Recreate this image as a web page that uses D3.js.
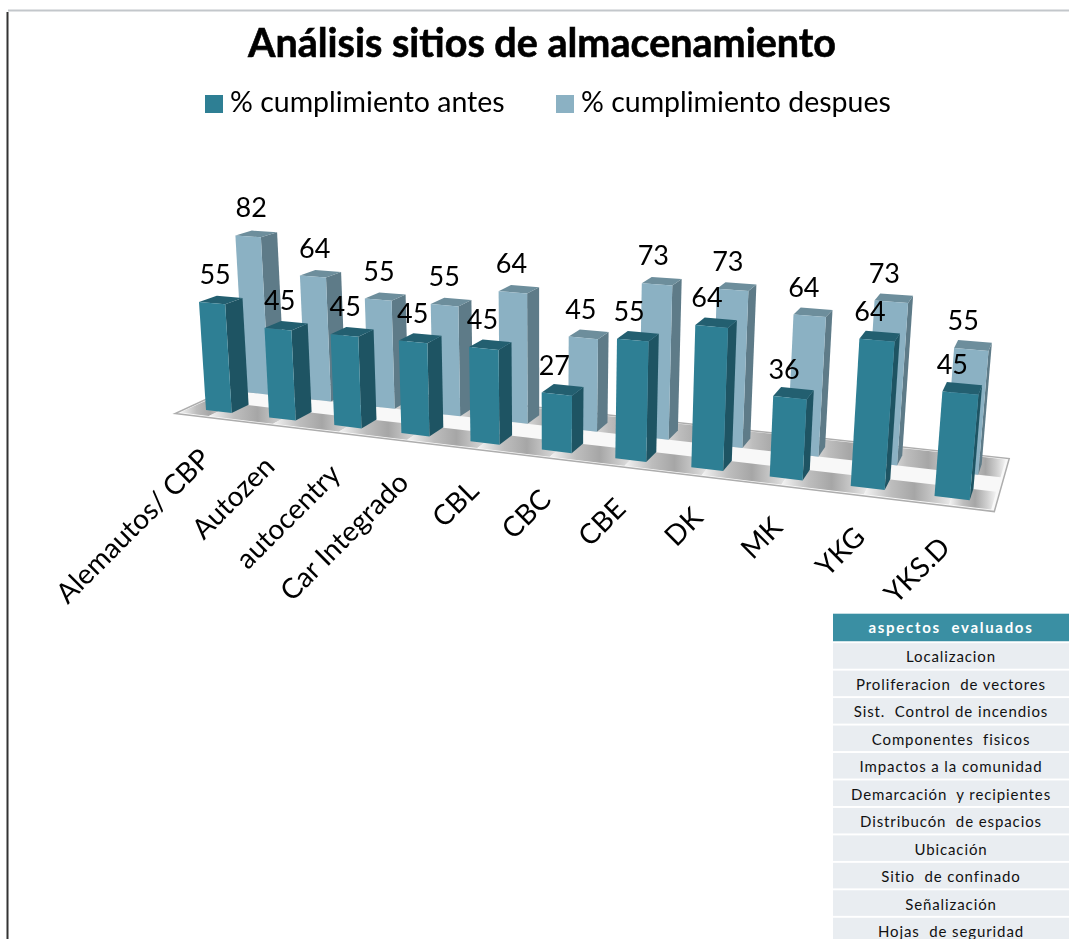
<!DOCTYPE html>
<html>
<head>
<meta charset="utf-8">
<script src="https://cdn.jsdelivr.net/npm/d3@7"></script>
<style>
html, body { margin: 0; padding: 0; background: #fff; overflow: hidden; }
svg { filter: blur(0.5px); }
text { font-family: Lato, "Open Sans", sans-serif; fill: #000; }
</style>
</head>
<body>
<svg id="chart" width="1069" height="939"></svg>
<script>
const categories = ["Alemautos/ CBP", "Autozen", "autocentry", "Car Integrado", "CBL", "CBC", "CBE", "DK", "MK", "YKG", "YKS.D"];
const antes = [55, 45, 45, 45, 45, 27, 55, 64, 36, 64, 45];
const despues = [82, 64, 55, 55, 64, 45, 73, 73, 64, 73, 55];
const seriesNames = ["% cumplimiento antes", "% cumplimiento despues"];
const tableHeader = "aspectos  evaluados";
const aspectos = ["Localizacion", "Proliferacion  de vectores", "Sist.  Control de incendios", "Componentes  fisicos",
    "Impactos a la comunidad", "Demarcación  y recipientes", "Distribucón  de espacios", "Ubicación",
    "Sitio  de confinado", "Señalización", "Hojas  de seguridad"];

const svg = d3.select("#chart");

// frame of the sheet
svg.append("line").attr("x1", 8).attr("x2", 1069).attr("y1", 10.5).attr("y2", 10.5)
    .attr("stroke", "#c3c7cb").attr("stroke-width", 2);
svg.append("line").attr("x1", 7.5).attr("x2", 7.5).attr("y1", 12).attr("y2", 939)
    .attr("stroke", "#333").attr("stroke-width", 2);

svg.append("text").attr("x", 542).attr("y", 57).attr("text-anchor", "middle")
    .attr("font-size", 39.5).attr("font-weight", 700)
    .style("stroke", "#000").style("stroke-width", 0.6)
    .text("Análisis sitios de almacenamiento");

// 3D world: X = category slot, Y = value, Z = depth (0 front row, 1 back row)
const barShare = 0.41;
const xWorld = d3.scaleBand().domain(d3.range(categories.length))
    .range([0, categories.length - 1 + barShare]).paddingInner(1 - barShare).paddingOuter(0);
const zWorld = d3.scalePoint().domain(seriesNames).range([0, 1]);
const barDepth = 0.44;

// homography fitted to the picture (the 0.003 term: bars grow a bit more to the right)
function project(X, Y, Z) {
    const y = Y * (1 + 0.003 * X);
    const w = 1 - 0.0145 * X - 0.000367 * y + 0.0424 * Z;
    return [(206 + 59.3 * X - 0.2 * y + 48.7 * Z) / w,
            (410 + 1.41 * X - 2.074 * y - 1.53 * Z) / w];
}
const pts = a => a.map(p => project(...p).map(v => v.toFixed(1)).join(",")).join(" ");

// floor
const floorG = svg.append("g");
const defs = svg.append("defs");
const blob = defs.append("linearGradient").attr("id", "floorBlob");
[[0, "#f4f4f4"], [0.3, "#bdbdbd"], [0.55, "#a6a6a6"], [0.8, "#cfcfcf"], [1, "#f4f4f4"]].forEach(s =>
    blob.append("stop").attr("offset", s[0]).attr("stop-color", s[1]));

floorG.append("polygon")
    .attr("points", pts([[-0.3, 0, -0.3], [10.72, 0, -0.3], [10.72, 0, 1.8], [-0.3, 0, 1.8]]))
    .attr("fill", "#f8f8f8").attr("stroke", "#adadad").attr("stroke-width", 1.5);
[[-0.24, 0.42], [1.0, 1.75]].forEach(band => {
    floorG.selectAll(null).data(d3.range(-1, categories.length)).enter().append("polygon")
        .attr("points", i => {
            const a = Math.max(i + 0.2, -0.26), b = Math.min(i + 1.2, 10.68);
            return pts([[a, 0, band[0]], [b, 0, band[0]], [b, 0, band[1]], [a, 0, band[1]]]);
        })
        .attr("fill", "url(#floorBlob)");
});

const colors = [
    {front: "#2e7f94", side: "#1e5463", top: "#235f70"},
    {front: "#8bb1c3", side: "#5e7b88", top: "#6d8e9c"}
];

function drawBars(values, s) {
    const z0 = zWorld(seriesNames[s]), z1 = z0 + barDepth;
    const bw = xWorld.bandwidth();
    const g = svg.append("g").attr("class", "series-" + s);
    const bars = g.selectAll("g").data(values).enter().append("g");
    bars.append("polygon").attr("fill", colors[s].side)
        .attr("points", (d, i) => { const x = xWorld(i) + bw; return pts([[x, 0, z0], [x, 0, z1], [x, d, z1], [x, d, z0]]); });
    bars.append("polygon").attr("fill", colors[s].top)
        .attr("points", (d, i) => { const x = xWorld(i); return pts([[x, d, z0], [x + bw, d, z0], [x + bw, d, z1], [x, d, z1]]); });
    bars.append("polygon").attr("fill", colors[s].front)
        .attr("points", (d, i) => { const x = xWorld(i); return pts([[x, 0, z0], [x + bw, 0, z0], [x + bw, d, z0], [x, d, z0]]); });
}
drawBars(despues, 1);
drawBars(antes, 0);

// value labels drift left along the axis, so a small nudge scale handles it
const labelDx = d3.scaleLinear().domain([0, categories.length - 1]).range([3, -8]);
function drawLabels(values, s) {
    const z0 = zWorld(seriesNames[s]);
    svg.append("g").selectAll("text").data(values).enter().append("text")
        .attr("x", (d, i) => project(xWorld(i) + xWorld.bandwidth() / 2, d, z0)[0] + labelDx(i))
        .attr("y", (d, i) => project(xWorld(i) + xWorld.bandwidth() / 2, d, z0)[1] - 19)
        .attr("text-anchor", "middle").attr("font-size", 27)
        .text(d => d);
}
drawLabels(despues, 1);
drawLabels(antes, 0);

// category labels, rotated, hanging off the front floor edge
svg.append("g").selectAll("text").data(categories).enter().append("text")
    .attr("transform", (d, i) => {
        const p = project(xWorld(i) + 0.1, 0, -0.3);
        return `translate(${p[0] + 12},${p[1] + 44}) rotate(-45)`;
    })
    .attr("text-anchor", "end").attr("font-size", 28)
    .text(d => d);

// legend
const legendX = d3.scaleOrdinal().domain(seriesNames).range([205, 556]);
const legend = svg.append("g").selectAll("g").data(seriesNames).enter().append("g")
    .attr("transform", d => `translate(${legendX(d)},95)`);
legend.append("rect").attr("width", 18).attr("height", 18)
    .attr("fill", (d, i) => colors[i].front);
legend.append("text").attr("x", 25).attr("y", 17).attr("font-size", 28.5).text(d => d);

// side table with the evaluated aspects
const rowY = d3.scaleBand().domain([tableHeader].concat(aspectos)).range([615.7, 615.7 + 12 * 27.3]).paddingInner(0.07);
const rows = svg.append("g").selectAll("g").data(rowY.domain()).enter().append("g")
    .attr("transform", d => `translate(833,${rowY(d)})`);
rows.append("rect").attr("y", (d, i) => i === 0 ? -2 : 0).attr("width", 236)
    .attr("height", (d, i) => rowY.bandwidth() + (i === 0 ? 2 : 0))
    .attr("fill", (d, i) => i === 0 ? "#3a8fa3" : "#e9edf1");
rows.append("text").attr("x", 118).attr("y", (d, i) => rowY.bandwidth() / 2 + (i === 0 ? 5 : 6.5))
    .attr("text-anchor", "middle").attr("font-size", 15)
    .attr("font-weight", (d, i) => i === 0 ? 700 : 400)
    .style("fill", (d, i) => i === 0 ? "#fff" : "#111")
    .style("letter-spacing", (d, i) => i === 0 ? "1.7px" : "0.9px")
    .style("white-space", "pre")
    .text(d => d);
</script>
</body>
</html>
